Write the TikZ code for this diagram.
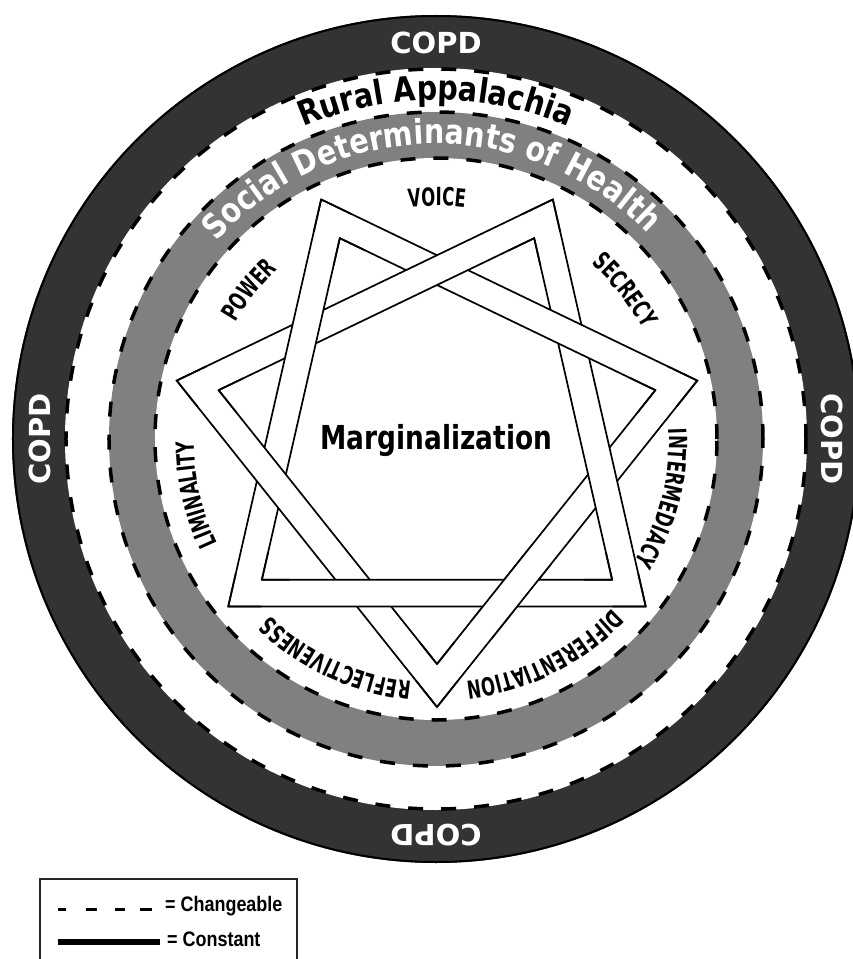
\documentclass[tikz,border=0pt]{standalone}
\usepackage{fontspec}
\usetikzlibrary{decorations.text,calc}
\newfontfamily\copdfont{DejaVu Sans}
\newfontfamily\titlefont{DejaVu Sans}[FakeStretch=0.84]
\newfontfamily\marginfont{DejaVu Sans}[FakeStretch=0.8]
\newfontfamily\labelfont{DejaVu Sans}[FakeStretch=0.66]
\newfontfamily\legendfont{Liberation Sans}[FakeStretch=0.855]
\definecolor{ringdark}{RGB}{51,51,51}
\definecolor{ringgrey}{RGB}{128,128,128}
% #1 centre angle, #2 baseline radius, #3 extra decoration keys, #4 format, #5 text
\newcommand\mycurvedtext[5]{%
  \path[decorate,decoration={text along path,text align=center,#3,text={|#4|#5}}]
    ({#1+70}:#2) arc[start angle={#1+70},end angle={#1-70},radius=#2];}
\newcommand\mylabel[3]{\mycurvedtext{#1}{#2}{text color=black}{\labelfont\bfseries\fontsize{25}{30}\selectfont}{#3}}
\begin{document}
\begin{tikzpicture}[x=1pt,y=1pt,
  dashring/.style={line width=3.5pt,dash pattern=on 15pt off 18pt},
  starline/.style={line width=1.7pt,line join=miter,line cap=butt},
  copd/.style={font=\copdfont\bfseries\fontsize{29}{34}\selectfont,text=white,inner sep=0pt},
  legendtext/.style={font=\legendfont\bfseries\fontsize{21}{25}\selectfont,inner sep=0pt,anchor=base west}]
\useasboundingbox (-436,-520) rectangle (417,439);
\clip (-436,-520) rectangle (417,439);
% rings
\fill[ringdark] (0,0) circle[radius=424pt];
\draw[black,line width=2pt] (0,0) circle[radius=423pt];
\fill[white] (0,0) circle[radius=371pt];
\draw[dashring] (0,0) circle[radius=370pt];
\fill[ringgrey] (0,0) circle[radius=327pt];
\fill[white] (0,0) circle[radius=281pt];
\draw[dashring] (0,0) circle[radius=327pt];
\draw[dashring] (0,0) circle[radius=281pt];
% ring texts
\node[copd] (copdtop) at (90:396pt) {COPD};
\node[copd,rotate=-90] (copdright) at (0:396pt) {COPD};
\node[copd,rotate=180] (copdbottom) at (-90:396pt) {COPD};
\node[copd,rotate=90] (copdleft) at (180:396pt) {COPD};
\mycurvedtext{90}{339pt}{text color=black}{\titlefont\bfseries\fontsize{34}{40}\selectfont}{Rural Appalachia}
\mycurvedtext{91}{295pt}{text color=white}{\titlefont\bfseries\fontsize{34}{40}\selectfont}{Social Determinants of Health}
% star
\begin{scope}[shift={(1,-1)}]
\foreach \k in {0,...,6}{
  \coordinate (O\k) at ({-90+\k*360/7}:267pt);
  \coordinate (I\k) at ({-90+\k*360/7}:224pt);
}
\foreach \k in {0,...,6}{
  \pgfmathtruncatemacro{\kn}{mod(\k+2,7)}
  \fill[white] (O\k)--(O\kn)--(I\kn)--(I\k)--cycle;
  \draw[starline] (O\k)--(O\kn) (I\k)--(I\kn);
}
\coordinate (X1) at (intersection of O0--O2 and O6--O1);
\coordinate (X2) at (intersection of I0--I2 and I6--I1);
\begin{scope}
  \clip ($(X1)!0.5!(X2)$) circle[radius=50pt];
  \fill[white] (O0)--(O2)--(I2)--(I0)--cycle;
  \draw[starline] (O0)--(O2) (I0)--(I2);
\end{scope}
\foreach \k in {0,...,6}{
  \pgfmathtruncatemacro{\kp}{mod(\k+5,7)}
  \pgfmathtruncatemacro{\kn}{mod(\k+2,7)}
  \draw[starline] ($(O\k)!0.08!(O\kp)$)--(O\k)--($(O\k)!0.08!(O\kn)$);
  \draw[starline] ($(I\k)!0.08!(I\kp)$)--(I\k)--($(I\k)!0.08!(I\kn)$);
}
\mylabel{90}{234pt}{VOICE}
\mylabel{38.57}{234pt}{SECRECY}
\mylabel{-14.5}{232pt}{INTERMEDIACY}
\mylabel{-63.5}{243pt}{DIFFERENTIATION}
\mylabel{-114.8}{243pt}{REFLECTIVENESS}
\mylabel{-167.14}{243pt}{LIMINALITY}
\mylabel{141.43}{233pt}{POWER}
\end{scope}
\node[font=\marginfont\bfseries\fontsize{33}{38}\selectfont,anchor=base,inner sep=0pt] (marg) at (0.5,-10) {Marginalization};
% legend
\draw[line width=1.2pt,black!85] (-396,-440) rectangle (-139,-560);
\draw[line width=3pt] (-378,-470)--(-370,-470) (-350,-470)--(-339,-470) (-321,-470)--(-311,-470) (-296,-470)--(-284,-470);
\node[legendtext] (chg) at (-271,-472) {= Changeable};
\draw[line width=6pt] (-378,-503)--(-276,-503);
\node[legendtext] (cst) at (-269,-507.5) {= Constant};
\end{tikzpicture}
\end{document}
